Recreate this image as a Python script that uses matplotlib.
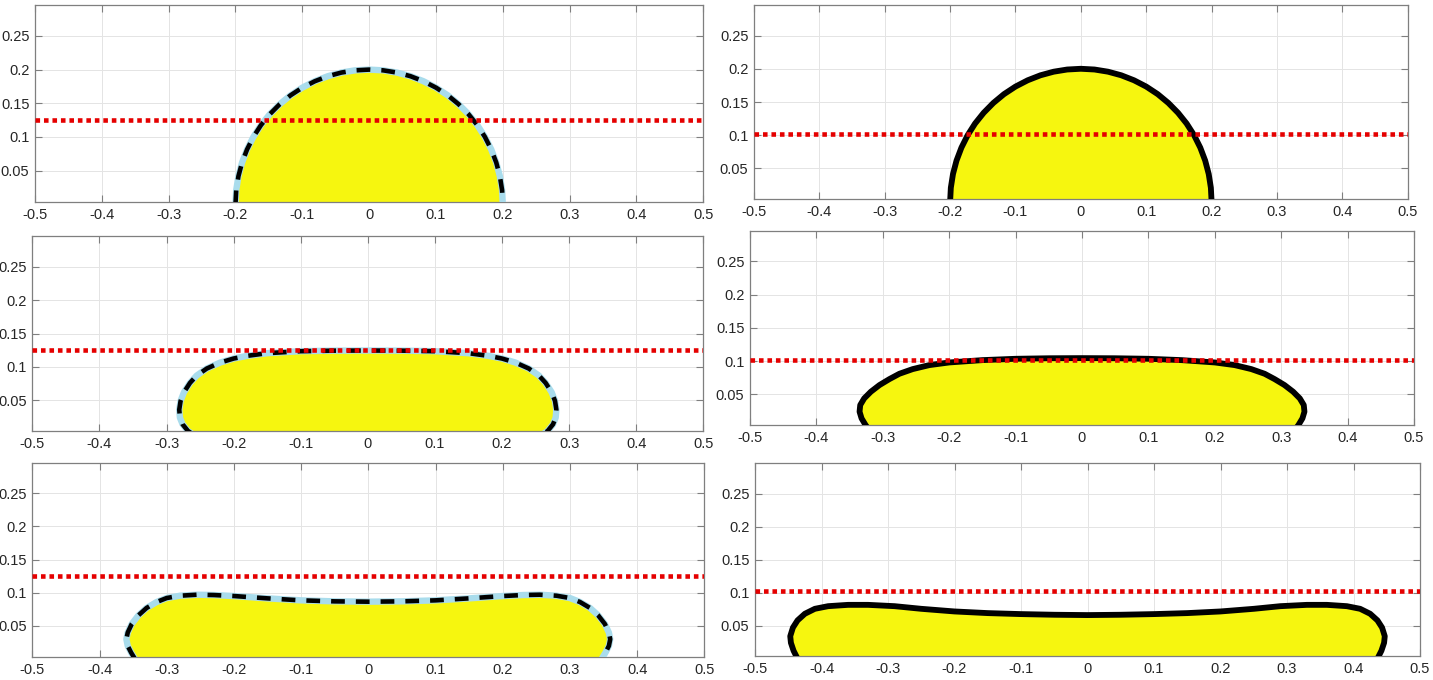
import numpy as np
import matplotlib.pyplot as plt

plt.rcParams['font.family'] = ['Liberation Sans', 'DejaVu Sans']
plt.rcParams['axes.unicode_minus'] = False

# Right half of each droplet outline, apex first, down to the substrate (x >= 0)
cap_x = [0.0, 0.0209, 0.0416, 0.0618, 0.0813, 0.1, 0.1176, 0.1338, 0.1486,
         0.1618, 0.1732, 0.1827, 0.1902, 0.1956, 0.1989, 0.2]
cap_y = [0.2, 0.1989, 0.1956, 0.1902, 0.1827, 0.1732, 0.1618, 0.1486, 0.1338,
         0.1176, 0.1, 0.0813, 0.0618, 0.0416, 0.0209, 0.0]

left_mid_x = [0.0, 0.05, 0.1, 0.15, 0.18, 0.2, 0.22, 0.24, 0.255, 0.265,
              0.274, 0.279, 0.281, 0.280, 0.276, 0.268, 0.262]
left_mid_y = [0.1245, 0.1243, 0.1235, 0.1205, 0.1165, 0.1125, 0.1065, 0.0975,
              0.087, 0.076, 0.062, 0.049, 0.036, 0.024, 0.014, 0.004, 0.0]

left_low_x = [0.0, 0.05, 0.1, 0.15, 0.2, 0.23, 0.255, 0.28, 0.3, 0.315, 0.33,
              0.342, 0.352, 0.358, 0.36, 0.358, 0.353, 0.347]
left_low_y = [0.0865, 0.087, 0.0885, 0.0915, 0.095, 0.0965, 0.097, 0.0955,
              0.092, 0.086, 0.077, 0.066, 0.053, 0.040, 0.030, 0.020, 0.010, 0.0]

right_mid_x = [0.0, 0.05, 0.1, 0.15, 0.2, 0.23, 0.255, 0.275, 0.29, 0.305,
               0.318, 0.328, 0.334, 0.335, 0.332, 0.326, 0.323]
right_mid_y = [0.1045, 0.1043, 0.1035, 0.1015, 0.098, 0.094, 0.088, 0.081,
               0.073, 0.064, 0.054, 0.044, 0.034, 0.024, 0.014, 0.004, 0.0]

right_low_x = [0.0, 0.05, 0.1, 0.15, 0.2, 0.25, 0.29, 0.33, 0.36, 0.39, 0.41,
               0.425, 0.436, 0.443, 0.447, 0.446, 0.442, 0.436]
right_low_y = [0.066, 0.0665, 0.0675, 0.069, 0.0715, 0.0755, 0.0795, 0.0815,
               0.0815, 0.0795, 0.0755, 0.068, 0.058, 0.047, 0.034, 0.024, 0.012, 0.0]

level_left = 0.125
level_right = 0.102

x_ticks = [-0.5, -0.4, -0.3, -0.2, -0.1, 0, 0.1, 0.2, 0.3, 0.4, 0.5]
x_tick_labels = ['-0.5', '-0.4', '-0.3', '-0.2', '-0.1', '0', '0.1', '0.2', '0.3', '0.4', '0.5']
y_ticks = [0.05, 0.1, 0.15, 0.2, 0.25]
y_tick_labels = ['0.05', '0.1', '0.15', '0.2', '0.25']

W, H = 1433, 680
# panel boxes in pixels: (left, top, right, bottom)
boxes = {
    'L1': (35, 5, 703.3, 201.5),
    'L2': (32.3, 236, 703.3, 431),
    'L3': (32.3, 462.5, 704.3, 656.5),
    'R1': (754, 5, 1407.7, 199),
    'R2': (750, 230.7, 1414, 425),
    'R3': (755, 463.3, 1420, 656),
}

panels = [
    ('L1', cap_x, cap_y, level_left, True),
    ('L2', left_mid_x, left_mid_y, level_left, True),
    ('L3', left_low_x, left_low_y, level_left, True),
    ('R1', cap_x, cap_y, level_right, False),
    ('R2', right_mid_x, right_mid_y, level_right, False),
    ('R3', right_low_x, right_low_y, level_right, False),
]

fig = plt.figure(figsize=(W / 100, H / 100), dpi=100)

for key, hx, hy, level, dashed in panels:
    l, t, r, b = boxes[key]
    ax = fig.add_axes([l / W, 1 - b / H, (r - l) / W, (b - t) / H])

    hx = np.asarray(hx)
    hy = np.asarray(hy)
    # mirror the half profile to get the full droplet
    fx = np.concatenate([-hx[::-1], hx[1:]])
    fy = np.concatenate([hy[::-1], hy[1:]])

    ax.fill(fx, fy, color='#f6f60f', lw=0, zorder=2)
    if dashed:
        ax.plot(fx, fy, color='#a9dcec', lw=4.6, zorder=3, solid_capstyle='butt')
        ax.plot(fx, fy, color='black', lw=3.3, dashes=(3.0, 2.4), zorder=4)
    else:
        ax.plot(fx, fy, color='black', lw=4.2, zorder=3)

    ax.axhline(level, color='#e50000', lw=3.3, linestyle=(0, (1, 0.85)), zorder=5)

    ax.set_xlim(-0.5, 0.5)
    ax.set_ylim(0.004, 0.296)
    ax.set_xticks(x_ticks)
    ax.set_xticklabels(x_tick_labels)
    ax.set_yticks(y_ticks)
    ax.set_yticklabels(y_tick_labels)
    ax.grid(True, color='#e4e4e4', lw=0.7, zorder=0)
    ax.set_axisbelow(True)
    ax.tick_params(direction='in', top=True, right=True, length=4.8, width=0.8,
                   color='#7f7f7f', labelcolor='#262626', labelsize=10.5)
    ax.tick_params(axis='x', pad=4.5)
    ax.tick_params(axis='y', pad=4)
    for s in ax.spines.values():
        s.set_color('#7f7f7f')
        s.set_linewidth(0.9)

fig.savefig('out.png', dpi=100)
